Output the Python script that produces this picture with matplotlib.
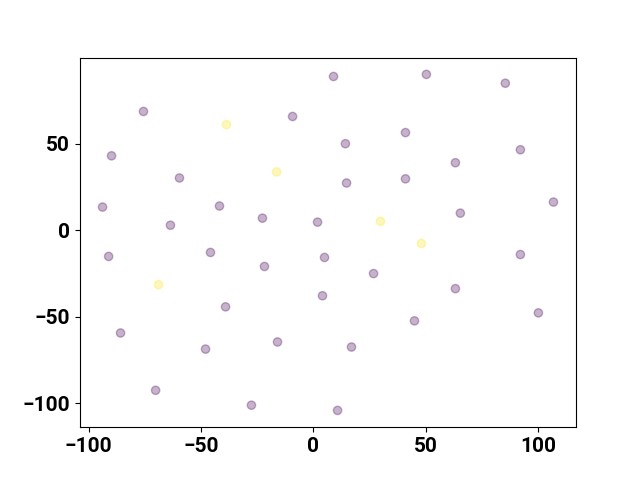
import matplotlib
matplotlib.use("Agg")
import matplotlib.pyplot as plt

plt.rcParams['font.family'] = ['Roboto', 'DejaVu Sans']
plt.rcParams['font.weight'] = 'bold'
plt.rcParams['font.size'] = 15

x = [8.9, 50.2, 85.3, -75.6, -38.7, -9.3, -89.8, 14.2, 40.9, 92.0,
     -59.6, -16.4, 14.7, 40.9, 63.1, -93.8, -41.8, -22.7, 1.8, 29.8,
     65.3, 106.7, -63.6, -91.1, -45.8, -21.8, 4.9, 48.0, 92.0, -68.9,
     4.0, 26.7, 63.1, -39.1, -85.8, 44.9, 100.0, -48.0, -16.0, 16.9,
     -70.2, -27.6, 10.7]
y = [88.8, 90.0, 84.9, 68.6, 61.0, 65.7, 43.0, 50.0, 56.4, 46.5,
     30.2, 33.7, 27.3, 29.7, 39.0, 13.4, 14.0, 7.0, 4.7, 5.2,
     9.9, 16.3, 2.9, -15.1, -12.8, -20.9, -15.7, -7.6, -14.0, -31.4,
     -37.8, -25.0, -33.7, -44.2, -59.3, -52.3, -47.7, -68.6, -64.5, -67.4,
     -92.4, -101.0, -104.0]
labels = [0, 0, 0, 0, 1, 0, 0, 0, 0, 0,
          0, 1, 0, 0, 0, 0, 0, 0, 0, 1,
          0, 0, 0, 0, 0, 0, 0, 1, 0, 1,
          0, 0, 0, 0, 0, 0, 0, 0, 0, 0,
          0, 0, 0]

fig, ax = plt.subplots(figsize=(6.4, 4.8), dpi=100)
ax.scatter(x, y, c=labels, cmap='viridis', alpha=0.3)
plt.savefig("out.png")
